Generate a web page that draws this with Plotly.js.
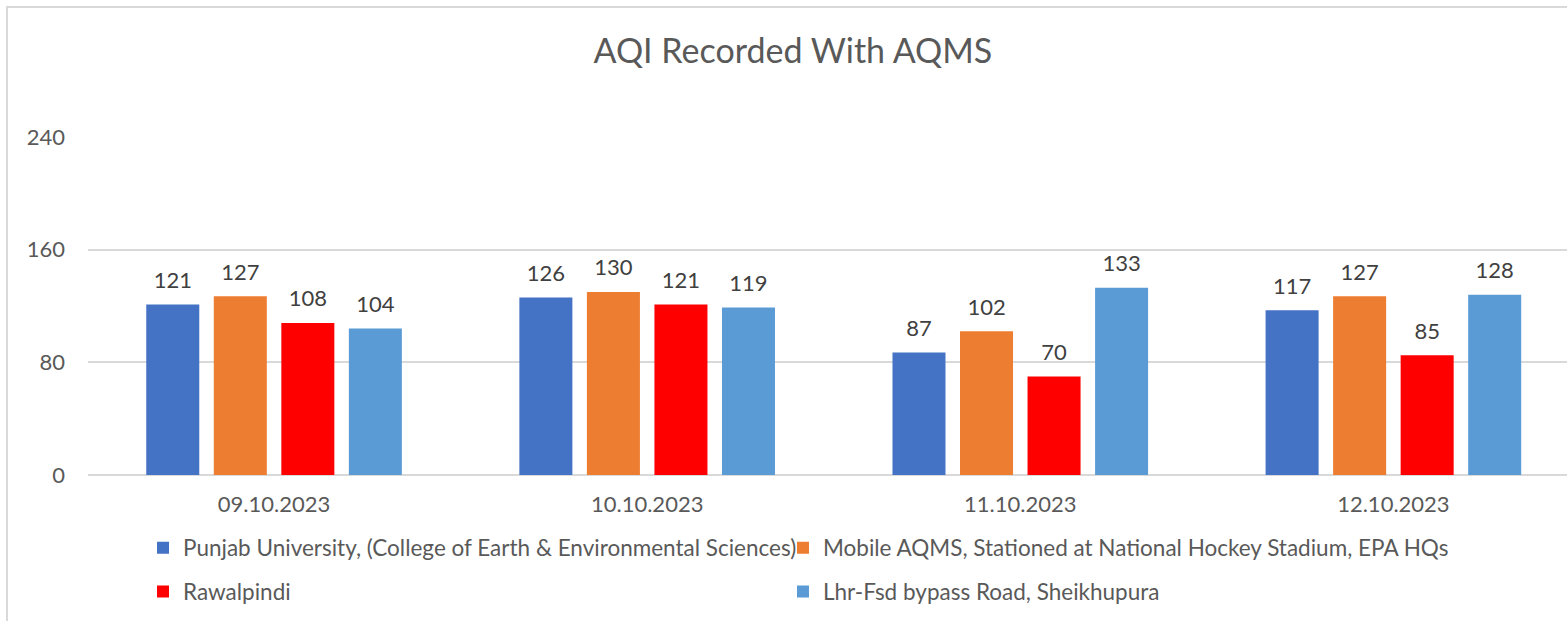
<!DOCTYPE html>
<html><head><meta charset="utf-8">
<script src="https://cdn.plot.ly/plotly-3.0.1.min.js"></script>
<style>
body{margin:0;background:#fff;}
#chart{width:1567px;height:621px;}
#frame{position:absolute;left:6px;top:6px;width:1700px;height:800px;border-left:2px solid #d9d9d9;border-top:2px solid #d9d9d9;pointer-events:none;}
</style></head><body>
<div id="chart"></div><div id="frame"></div>
<script>
const categories = ["09.10.2023","10.10.2023","11.10.2023","12.10.2023"];
const seriesNames = ["Punjab University, (College of Earth & Environmental Sciences)","Mobile AQMS, Stationed at National Hockey Stadium, EPA HQs","Rawalpindi","Lhr-Fsd bypass Road, Sheikhupura"];
const punjabUniv = [121,126,87,117];
const mobileAqms = [127,130,102,127];
const rawalpindi = [108,121,70,85];
const sheikhupura = [104,119,133,128];
const yTicks = [0,80,160,240];

const seriesValues = [punjabUniv, mobileAqms, rawalpindi, sheikhupura];
const colors = ["#4472C4","#ED7D31","#FF0000","#5B9BD5"];
const legendIds = ["legend","legend2","legend3","legend4"];
const FONT = "Lato, 'Open Sans', sans-serif";

const bars = seriesValues.map((vals,i)=>({
  type:"bar", x:categories, y:vals, name:seriesNames[i],
  marker:{color:colors[i]}, offsetgroup:"g"+i,
  legend:legendIds[i], hoverinfo:"x+y+name"
}));
const labels = seriesValues.map((vals,i)=>({
  type:"scatter", mode:"markers+text", x:categories, y:vals, offsetgroup:"g"+i,
  marker:{size:16, opacity:0, color:colors[i]},
  text:vals.map(String), textposition:"top center", cliponaxis:false,
  textfont:{family:FONT,size:22,color:"#404040"},
  showlegend:false, hoverinfo:"skip"
}));

const legendCommon = {orientation:"h", xanchor:"left", yanchor:"middle",
  font:{family:FONT,size:22.5,color:"#595959"}, bgcolor:"rgba(0,0,0,0)", itemclick:false, itemdoubleclick:false};
const col1 = 0.0372, col2 = 0.4699, row1 = -0.216, row2 = -0.346;

const layout = {
  width:1567, height:621,
  margin:{l:88,r:0,t:137,b:146},
  paper_bgcolor:"#fff", plot_bgcolor:"#fff",
  title:{text:"AQI Recorded With AQMS", font:{family:FONT,size:34,color:"#595959"}, x:0.506, xanchor:"center", y:0.918, yanchor:"middle"},
  barmode:"group", bargap:0.276, bargroupgap:0.215,
  scattermode:"group", scattergap:0.276,
  xaxis:{type:"category", range:[-0.4987,3.4653], showgrid:false, zeroline:false, showline:false, ticks:"", ticklabelstandoff:14,
    tickfont:{family:FONT,size:22,color:"#595959"}, fixedrange:true},
  yaxis:{range:[0,240], tickvals:yTicks, ticktext:yTicks.map(String), showgrid:true, gridcolor:"#D9D9D9", gridwidth:2,
    zeroline:true, zerolinecolor:"#D9D9D9", zerolinewidth:2, showline:false, ticks:"", ticklabelstandoff:22,
    tickfont:{family:FONT,size:22,color:"#595959"}, fixedrange:true},
  legend:Object.assign({x:col1, y:row1}, legendCommon),
  legend2:Object.assign({x:col2, y:row1}, legendCommon),
  legend3:Object.assign({x:col1, y:row2}, legendCommon),
  legend4:Object.assign({x:col2, y:row2}, legendCommon),
  showlegend:true
};
Plotly.newPlot("chart", bars.concat(labels), layout, {displayModeBar:false});
</script></body></html>
